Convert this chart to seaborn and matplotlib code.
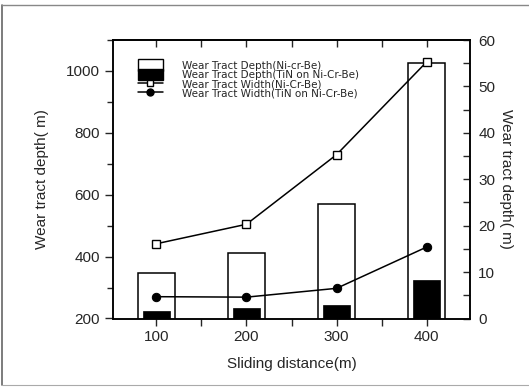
import matplotlib
matplotlib.use("Agg")
import matplotlib.pyplot as plt
from matplotlib.lines import Line2D
from matplotlib.patches import Patch
from matplotlib.ticker import MultipleLocator
import seaborn as sns
import pandas as pd

# ---- data ----
distance = [100, 200, 300, 400]
depth_nicrbe = [348, 413, 571, 1027]          # white bars (left-axis units)
depth_tin = [225, 233, 244, 323]              # black bars (left-axis units)
width_nicrbe = [16.1, 20.3, 35.3, 55.3]       # open squares (right-axis units)
width_tin = [4.7, 4.6, 6.5, 15.4]             # filled circles (right-axis units)
legend_labels = ["Wear Tract Depth(Ni-cr-Be)",
                 "Wear Tract Depth(TiN on Ni-Cr-Be)",
                 "Wear Tract Width(Ni-Cr-Be)",
                 "Wear Tract Width(TiN on Ni-Cr-Be)"]
xlabel = "Sliding distance(m)"
ylabel_left = "Wear tract depth( m)"
ylabel_right = "Wear tract depth( m)"

sns.set_style("white")
plt.rcParams['font.family'] = ['Liberation Sans', 'DejaVu Sans']

df = pd.DataFrame({"x": distance, "white": depth_nicrbe, "black": depth_tin,
                   "sq": width_nicrbe, "ci": width_tin})

fig = plt.figure(figsize=(5.29, 3.87), dpi=100)
ax = fig.add_axes([113/529, 1-318.5/387, 357/529, 278.5/387])

sns.barplot(data=df, x="x", y="white", native_scale=True, width=0.41,
            color="white", saturation=1, edgecolor="black", linewidth=1.1, ax=ax)
sns.barplot(data=df, x="x", y="black", native_scale=True, width=0.30,
            color="black", saturation=1, edgecolor="black", linewidth=0.5, ax=ax)
ax.set_xlim(52, 448)
ax.set_ylim(200, 1100)

ax2 = ax.twinx()
sns.lineplot(data=df, x="x", y="sq", marker="s", markersize=6, color="black",
             markerfacecolor="white", markeredgecolor="black", markeredgewidth=1,
             linewidth=1.1, ax=ax2)
sns.lineplot(data=df, x="x", y="ci", marker="o", markersize=6, color="black",
             markerfacecolor="black", markeredgecolor="black",
             linewidth=1.1, ax=ax2)
ax2.set_ylim(0, 60)
ax2.set_xlim(52, 448)

fs = 11
# x axis (bottom: outward ticks)
ax.xaxis.set_minor_locator(MultipleLocator(50))
ax.set_xticks([100, 200, 300, 400])
ax.set_xticklabels(["100", "200", "300", "400"], fontsize=fs)
ax.tick_params(axis="x", which="both", direction="out", length=5, width=1,
               bottom=True, top=False, labelbottom=True)
# top axis: inward ticks, no labels
top = ax.secondary_xaxis("top")
top.xaxis.set_major_locator(MultipleLocator(50))
top.tick_params(axis="x", which="both", direction="in", length=5, width=1,
                labeltop=False)
top.spines["top"].set_linewidth(1.1)
# left axis
ax.yaxis.set_minor_locator(MultipleLocator(100))
ax.set_yticks([200, 400, 600, 800, 1000])
ax.set_yticklabels(["200", "400", "600", "800", "1000"], fontsize=fs)
ax.tick_params(axis="y", which="major", direction="out", length=6, width=1, left=True)
ax.tick_params(axis="y", which="minor", direction="out", length=4, width=1, left=True)
# right axis
ax2.yaxis.set_minor_locator(MultipleLocator(5))
ax2.set_yticks([0, 10, 20, 30, 40, 50, 60])
ax2.set_yticklabels(["0", "10", "20", "30", "40", "50", "60"], fontsize=fs)
ax2.tick_params(axis="y", which="both", direction="in", length=5, width=1,
                right=True, pad=6)

ax.set_xlabel(xlabel, fontsize=fs, labelpad=9)
ax.set_ylabel(ylabel_left, fontsize=fs, labelpad=12)
ax2.set_ylabel(ylabel_right, fontsize=fs, rotation=270, labelpad=13)

for a in (ax, ax2):
    for s in a.spines.values():
        s.set_color("black")
        s.set_linewidth(1.1)

handles = [Patch(facecolor="white", edgecolor="black", linewidth=1),
           Patch(facecolor="black", edgecolor="black"),
           Line2D([], [], color="black", marker="s", markerfacecolor="white",
                  markeredgecolor="black", markersize=5, linewidth=1.1),
           Line2D([], [], color="black", marker="o", markerfacecolor="black",
                  markersize=5, linewidth=1.1)]
ax2.legend(handles, legend_labels, loc="upper left", bbox_to_anchor=(0.07, 0.93),
           frameon=False, prop={"family": "DejaVu Sans", "size": 7.5},
           handlelength=2.4, handleheight=1.3,
           handletextpad=1.8, labelspacing=-0.2, borderaxespad=0, borderpad=0)

# outer frame of the figure
fig.add_artist(Line2D([2/529, 2/529], [1-5/387, 1-385/387], color="#666666", lw=1.2,
                      transform=fig.transFigure))
fig.add_artist(Line2D([2/529, 1], [1-5/387, 1-5/387], color="#888888", lw=1.0,
                      transform=fig.transFigure))
fig.add_artist(Line2D([2/529, 1], [1-385/387, 1-385/387], color="#aaaaaa", lw=0.8,
                      transform=fig.transFigure))

fig.savefig("out.png", dpi=100)
